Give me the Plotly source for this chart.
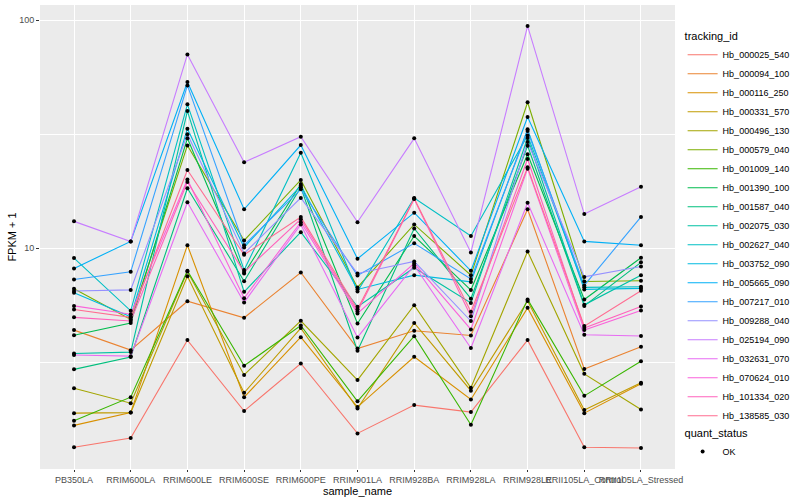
import plotly.graph_objects as go

samples = ["PB350LA", "RRIM600LA", "RRIM600LE", "RRIM600SE", "RRIM600PE", "RRIM901LA",
           "RRIM928BA", "RRIM928LA", "RRIM928LE", "RRII105LA_Control", "RRII105LA_Stressed"]

tracking_ids = ["Hb_000025_540", "Hb_000094_100", "Hb_000116_250", "Hb_000331_570", "Hb_000496_130",
                "Hb_000579_040", "Hb_001009_140", "Hb_001390_100", "Hb_001587_040", "Hb_002075_030",
                "Hb_002627_040", "Hb_003752_090", "Hb_005665_090", "Hb_007217_010", "Hb_009288_040",
                "Hb_025194_090", "Hb_032631_070", "Hb_070624_010", "Hb_101334_020", "Hb_138585_030"]

colors = ["#F8766D", "#EA8331", "#D89000", "#C09B00", "#A3A500", "#7CAE00", "#39B600", "#00BB4E",
          "#00BF7D", "#00C1A3", "#00BFC4", "#00BAE0", "#00B0F6", "#35A2FF", "#9590FF", "#C77CFF",
          "#E76BF3", "#FA62DB", "#FF62BC", "#FF6C91"]

# FPKM + 1 per sample, one list per tracking_id
hb_000025_540 = [1.34, 1.47, 3.95, 1.93, 3.12, 1.54, 2.05, 1.91, 3.95, 1.34, 1.33]
hb_000094_100 = [4.37, 3.57, 5.85, 4.95, 7.82, 3.63, 4.34, 4.14, 14.8, 2.95, 3.69]
hb_000116_250 = [1.67, 1.90, 10.3, 2.22, 4.07, 2.01, 3.34, 2.17, 5.47, 1.89, 2.54]
hb_000331_570 = [1.89, 1.90, 7.53, 2.32, 4.46, 1.98, 4.70, 2.37, 5.86, 1.95, 2.57]
hb_000496_130 = [2.43, 2.09, 7.90, 2.78, 4.80, 2.64, 5.62, 2.44, 9.67, 2.81, 1.96]
hb_000579_040 = [6.63, 4.87, 28.2, 10.8, 19.9, 6.72, 12.7, 7.61, 43.6, 7.14, 7.19]
hb_001009_140 = [1.75, 2.22, 7.95, 3.05, 4.58, 2.13, 4.11, 1.68, 5.96, 2.25, 3.19]
hb_001390_100 = [4.15, 4.69, 30.3, 7.74, 19.1, 4.67, 11.3, 6.55, 25.8, 5.95, 9.07]
hb_001587_040 = [2.94, 3.33, 18.3, 7.16, 18.5, 3.55, 12.2, 6.00, 28.1, 5.58, 8.66]
hb_002075_030 = [3.45, 3.50, 39.9, 6.43, 11.75, 5.53, 8.20, 5.75, 30.4, 5.64, 7.61]
hb_002627_040 = [9.04, 5.31, 42.7, 8.01, 26.2, 6.45, 16.6, 11.3, 31.2, 6.73, 6.77]
hb_003752_090 = [6.37, 5.00, 33.4, 10.07, 18.8, 6.59, 7.61, 7.11, 33.2, 6.59, 6.66]
hb_005665_090 = [8.15, 10.7, 53.5, 14.8, 28.3, 8.98, 14.3, 7.95, 37.6, 10.7, 10.3]
hb_007217_010 = [7.29, 7.87, 51.7, 10.3, 18.1, 7.58, 10.5, 7.33, 32.6, 6.86, 13.7]
hb_009288_040 = [6.49, 6.56, 31.6, 9.48, 16.6, 7.74, 8.74, 4.79, 29.2, 7.48, 8.31]
hb_025194_090 = [13.1, 10.7, 70.7, 23.8, 30.8, 13.0, 30.3, 9.57, 94.1, 14.1, 18.6]
hb_032631_070 = [3.40, 3.36, 15.9, 5.78, 12.7, 4.06, 8.40, 3.65, 15.8, 4.17, 4.12]
hb_070624_010 = [5.58, 5.13, 20.0, 6.03, 13.0, 5.17, 8.57, 4.40, 22.3, 4.37, 5.33]
hb_101334_020 = [4.97, 4.79, 19.5, 7.85, 13.4, 5.27, 16.4, 5.03, 24.6, 4.46, 5.55]
hb_138585_030 = [5.38, 4.97, 22.0, 9.35, 13.7, 5.40, 16.5, 5.26, 22.6, 4.55, 6.50]

series = [hb_000025_540, hb_000094_100, hb_000116_250, hb_000331_570, hb_000496_130,
          hb_000579_040, hb_001009_140, hb_001390_100, hb_001587_040, hb_002075_030,
          hb_002627_040, hb_003752_090, hb_005665_090, hb_007217_010, hb_009288_040,
          hb_025194_090, hb_032631_070, hb_070624_010, hb_101334_020, hb_138585_030]

FONT = "Liberation Sans, Arial, Helvetica, sans-serif"

fig = go.Figure()
for name, col, vals in zip(tracking_ids, colors, series):
    fig.add_trace(go.Scatter(x=samples, y=vals, mode="lines", name=name,
                             line=dict(color=col, width=1.1), legend="legend"))

all_x = [s for vals in series for s in samples]
all_y = [v for vals in series for v in vals]
fig.add_trace(go.Scatter(x=all_x, y=all_y, mode="markers", name="OK",
                         marker=dict(color="black", size=4, symbol="circle"),
                         legend="legend2"))

fig.update_layout(
    width=800, height=500,
    margin=dict(l=40, r=114, t=5, b=31),
    paper_bgcolor="white", plot_bgcolor="#EBEBEB",
    font=dict(family=FONT, size=9, color="#4D4D4D"),
    legend=dict(title=dict(text="tracking_id", font=dict(size=11, color="black")),
                x=1.012, xanchor="left", y=0.955, yanchor="top",
                font=dict(size=9, color="black"), itemwidth=30,
                bgcolor="rgba(0,0,0,0)", tracegroupgap=0),
    legend2=dict(title=dict(text="quant_status", font=dict(size=11, color="black")),
                 x=1.012, xanchor="left", y=0.1, yanchor="top",
                 font=dict(size=9, color="black"), itemwidth=30,
                 bgcolor="rgba(0,0,0,0)"),
    xaxis=dict(type="category", categoryorder="array", categoryarray=samples,
               range=[-0.6, 10.6], showgrid=True, gridcolor="white", gridwidth=1.1,
               zeroline=False, ticks="outside", ticklen=2, tickcolor="#333333",
               tickangle=0, tickfont=dict(size=9, color="#4D4D4D"),
               title=dict(text="sample_name", font=dict(size=11, color="black"), standoff=0),
               showline=False),
    yaxis=dict(type="log", range=[0.0315, 2.066], tickvals=[10, 100],
               ticktext=["10", "100"], showgrid=True, gridcolor="white", gridwidth=1.1,
               zeroline=False, ticks="outside", ticklen=3, tickcolor="#333333",
               tickfont=dict(size=9, color="#4D4D4D"),
               minor=dict(tickvals=[10 ** 0.5, 10 ** 1.5], showgrid=True,
                          gridcolor="white", gridwidth=0.5, ticks=""),
               title=dict(text="FPKM + 1", font=dict(size=11, color="black"), standoff=0),
               showline=False),
)

fig.write_html("out.html", config={"displayModeBar": False},
               post_script="document.body.style.margin='0';")
